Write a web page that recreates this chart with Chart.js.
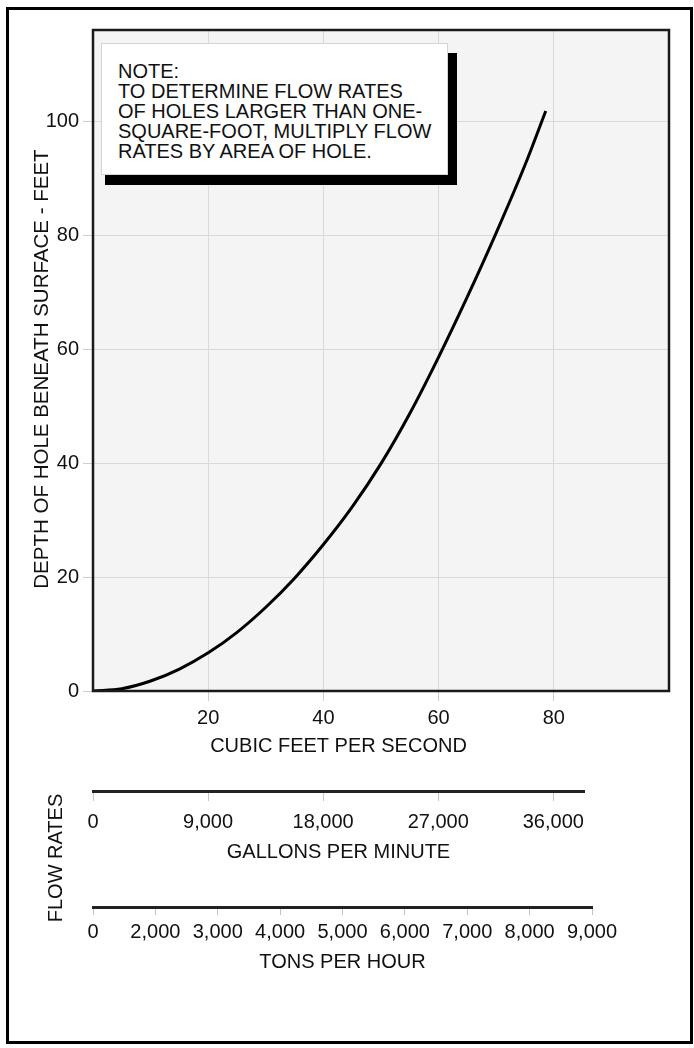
<!DOCTYPE html>
<html>
<head>
<meta charset="utf-8">
<script src="https://cdn.jsdelivr.net/npm/chart.js@4.4.1/dist/chart.umd.min.js"></script>
<style>
    html,body{margin:0;padding:0;background:#fff;}
    body{
        width:694px;height:1048px;position:relative;overflow:hidden;
        font-family:"Liberation Sans",Arial,Helvetica,sans-serif;color:#111;
    }
    .frame{position:absolute;left:6px;top:7px;width:681px;height:1031px;border:3px solid #000;}
    .box{position:absolute;left:0;width:694px;}
    #mainBox{top:0;height:740px;}
    #gpmBox{top:720px;height:145px;}
    #tphBox{top:880px;height:94px;}

    .note-shadow{position:absolute;left:105px;top:53px;width:352px;height:132px;background:#000;}
    .note{
        position:absolute;left:101px;top:43px;width:347px;height:132px;box-sizing:border-box;
        background:#fff;border:1px solid #d4d4d4;padding:17px 0 0 16px;
        font-size:20px;line-height:20px;white-space:nowrap;
    }
    .flow-label{
        position:absolute;left:-25px;top:846px;width:160px;height:24px;
        font-size:20px;line-height:24px;text-align:center;white-space:nowrap;
        transform:rotate(-90deg);
    }
</style>
</head>
<body>

<div class="frame"></div>

<div class="box" id="mainBox"><canvas id="mainChart"></canvas></div>
<div class="box" id="gpmBox"><canvas id="gpmChart"></canvas></div>
<div class="box" id="tphBox"><canvas id="tphChart"></canvas></div>

<!-- ===== NOTE BOX ===== -->
<div class="note-shadow"></div>
<div class="note">NOTE:<br>TO DETERMINE FLOW RATES<br>OF HOLES LARGER THAN ONE-<br>SQUARE-FOOT, MULTIPLY FLOW<br>RATES BY AREA OF HOLE.</div>

<div class="flow-label">FLOW RATES</div>

<script>
// ===== DATA =====
const CFS   = [0, 5, 10, 15, 20, 25, 30, 35, 40, 45, 50, 55, 60, 65, 70, 75, 78.6];
const DEPTH = [0, 0.4, 1.75, 3.85, 6.7, 10.3, 14.7, 19.8, 25.7, 32.3, 39.9, 48.7, 58.6, 69.2, 80.4, 92.3, 101.8];

const CFS_TICKS   = [20, 40, 60, 80];
const DEPTH_TICKS = [0, 20, 40, 60, 80, 100];
const GPM_TICKS   = [0, 9000, 18000, 27000, 36000];
const TONS_TICKS  = [0, 2000, 3000, 4000, 5000, 6000, 7000, 8000, 9000];

const FONT = "'Liberation Sans', Arial, Helvetica, sans-serif";
const INK = "#111";
const fmt = v => Number(v).toLocaleString("en-US");

Chart.defaults.font.family = FONT;
Chart.defaults.font.size = 20;
Chart.defaults.color = INK;
Chart.defaults.animation = false;

// grey plot background + dark frame around the chart area
const plotFrame = {
    id:"plotFrame",
    beforeDraw(chart){
        const {ctx, chartArea:a} = chart;
        ctx.save();
        ctx.fillStyle = "#f4f4f4";
        ctx.fillRect(a.left, a.top, a.width, a.height);
        ctx.restore();
    },
    afterDraw(chart){
        const {ctx, chartArea:a} = chart;
        ctx.save();
        ctx.strokeStyle = "#1a1a1a";
        ctx.lineWidth = 2.5;
        ctx.strokeRect(a.left, a.top, a.width, a.height);
        ctx.restore();
    }
};

/* ===== MAIN CHART ===== */

new Chart(document.getElementById("mainChart"),{
    type:"line",
    data:{
        datasets:[{
            data:CFS.map((x,i)=>({x:x, y:DEPTH[i]})),
            borderColor:"#000",
            borderWidth:3,
            pointRadius:0,
            cubicInterpolationMode:"monotone",
            fill:false
        }]
    },
    options:{
        responsive:true,
        maintainAspectRatio:false,
        layout:{padding:{top:30,right:25,bottom:0,left:0}},
        plugins:{legend:{display:false},tooltip:{enabled:false}},
        scales:{
            x:{
                type:"linear",min:0,max:100,
                afterBuildTicks(s){ s.ticks = CFS_TICKS.map(v=>({value:v})); },
                ticks:{padding:5,maxRotation:0,callback:v=>v},
                grid:{color:"#d9d9d9",tickLength:10,tickColor:"#cfcfcf"},
                border:{display:false},
                afterFit(s){ s.height = 49; }
            },
            y:{
                type:"linear",min:0,max:116,
                afterBuildTicks(s){ s.ticks = DEPTH_TICKS.map(v=>({value:v})); },
                ticks:{padding:4,callback:v=>v},
                grid:{color:"#d9d9d9",tickLength:10,tickColor:"#cfcfcf"},
                border:{display:false},
                title:{
                    display:true,
                    text:"DEPTH OF HOLE BENEATH SURFACE - FEET   ",
                    font:{size:20.5},
                    padding:{top:30,bottom:0}
                },
                afterFit(s){ s.width = 93; }
            }
        }
    },
    plugins:[plotFrame]
});

/* ===== GALLONS PER MINUTE ===== */

new Chart(document.getElementById("gpmChart"),{
    type:"line",
    data:{datasets:[]},
    options:{
        responsive:true,
        maintainAspectRatio:false,
        layout:{padding:{top:0,right:110,bottom:0,left:93}},
        plugins:{
            legend:{display:false},
            tooltip:{enabled:false},
            title:{
                display:true,
                text:"CUBIC FEET PER SECOND",
                fullSize:false,
                font:{size:20,weight:"normal"},
                color:INK,
                padding:{top:14,bottom:10}
            }
        },
        scales:{
            x:{
                type:"linear",min:0,max:38400,
                afterBuildTicks(s){ s.ticks = GPM_TICKS.map(v=>({value:v})); },
                ticks:{padding:9,maxRotation:0,callback:v=>fmt(v)},
                grid:{drawOnChartArea:false,tickLength:10,tickColor:"#c4c4c4"},
                border:{display:true,color:"#222",width:3},
                title:{display:true,text:"GALLONS PER MINUTE",padding:{top:0,bottom:1}},
                afterFit(s){ s.height = 74; }
            },
            y:{display:false}
        }
    }
});

/* ===== TONS PER HOUR ===== */

new Chart(document.getElementById("tphChart"),{
    type:"line",
    data:{labels:TONS_TICKS.map(fmt),datasets:[]},
    options:{
        responsive:true,
        maintainAspectRatio:false,
        layout:{padding:{top:0,right:102,bottom:0,left:93}},
        plugins:{legend:{display:false},tooltip:{enabled:false}},
        scales:{
            x:{
                type:"category",offset:false,
                ticks:{padding:5,maxRotation:0,autoSkip:false},
                grid:{drawOnChartArea:false,offset:false,tickLength:8,tickColor:"#c4c4c4"},
                border:{display:true,color:"#222",width:3},
                title:{display:true,text:"TONS PER HOUR",padding:{top:0,bottom:0}},
                afterFit(s){ s.height = 67; }
            },
            y:{display:false}
        }
    }
});
</script>
</body>
</html>
